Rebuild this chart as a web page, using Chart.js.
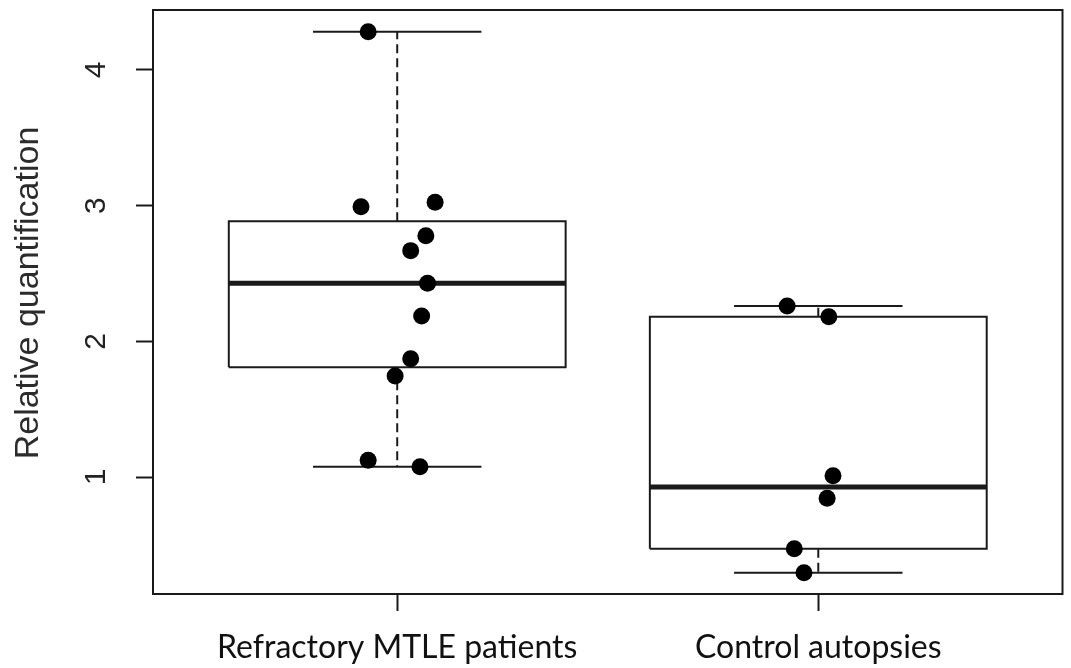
<!DOCTYPE html>
<html>
<head>
<meta charset="utf-8">
<script src="https://cdn.jsdelivr.net/npm/chart.js@4.4.1/dist/chart.umd.min.js"></script>
<style>
    html, body { margin: 0; padding: 0; background: #fff; }
    #wrap { width: 1071px; height: 668px; }
</style>
</head>
<body>
<div id="wrap"><canvas id="chart-box"></canvas></div>
<script>
// ===== 데이터 =====
const categories = ['Refractory MTLE patients', 'Control autopsies'];
const yTicks = [1, 2, 3, 4];
const yTitle = 'Relative quantification';

// 각 그룹의 측정값과 (지터된) x 위치
const mtleValues = [4.281, 3.024, 2.992, 2.778, 2.668, 2.427, 2.186, 1.872, 1.744, 1.123, 1.076];
const mtleJitter = [0.931, 1.090, 0.914, 1.068, 1.032, 1.072, 1.058, 1.032, 0.995, 0.931, 1.054];
const controlValues = [2.260, 2.181, 1.010, 0.843, 0.472, 0.295];
const controlJitter = [1.926, 2.025, 2.035, 2.021, 1.943, 1.966];

// ===== 유틸 =====
// R fivenum (Tukey hinges)
function fivenum(values) {
    const s = values.slice().sort(function (a, b) { return a - b; });
    const n = s.length;
    const n4 = Math.floor((n + 3) / 2) / 2;
    const d = [1, n4, (n + 1) / 2, n + 1 - n4, n];
    return d.map(function (p) {
        return 0.5 * (s[Math.floor(p) - 1] + s[Math.ceil(p) - 1]);
    });
}

function seg(x1, y1, x2, y2) {
    return [{ x: x1, y: y1 }, { x: x2, y: y2 }];
}

const INK = '#1a1a1a';
const groups = [
    { center: 1, values: mtleValues, jitter: mtleJitter },
    { center: 2, values: controlValues, jitter: controlJitter }
];

const datasets = [];

// 점 (맨 위에 그려지도록 첫 번째)
groups.forEach(function (g) {
    datasets.push({
        type: 'scatter',
        data: g.values.map(function (v, i) { return { x: g.jitter[i], y: v }; }),
        pointRadius: 8.5,
        pointBackgroundColor: '#000',
        pointBorderWidth: 0,
        showLine: false
    });
});

function lineSet(data, width, dash) {
    return {
        type: 'scatter',
        data: data,
        showLine: true,
        borderColor: INK,
        borderWidth: width,
        borderDash: dash || [],
        borderCapStyle: 'butt',
        borderJoinStyle: 'miter',
        pointRadius: 0,
        fill: false,
        tension: 0
    };
}

groups.forEach(function (g) {
    const f = fivenum(g.values);
    const c = g.center;
    const bw = 0.4, cw = 0.2;
    datasets.push(lineSet(seg(c - bw, f[2], c + bw, f[2]), 5));
    datasets.push(lineSet([
        { x: c - bw, y: f[1] }, { x: c + bw, y: f[1] },
        { x: c + bw, y: f[3] }, { x: c - bw, y: f[3] },
        { x: c - bw, y: f[1] }
    ], 2));
    datasets.push(lineSet(seg(c, f[3], c, f[4]), 2, [9, 5]));
    datasets.push(lineSet(seg(c, f[1], c, f[0]), 2, [9, 5]));
    datasets.push(lineSet(seg(c - cw, f[4], c + cw, f[4]), 2));
    datasets.push(lineSet(seg(c - cw, f[0], c + cw, f[0]), 2));
});

// ===== 플러그인: 외곽 박스 + 회전된 y 라벨 =====
const framePlugin = {
    id: 'frame',
    afterDraw: function (chart) {
        const ctx = chart.ctx;
        const a = chart.chartArea;
        const y = chart.scales.y;
        ctx.save();
        ctx.strokeStyle = INK;
        ctx.lineWidth = 2;
        ctx.strokeRect(a.left, a.top, a.right - a.left, a.bottom - a.top);

        ctx.textAlign = 'center';
        ctx.textBaseline = 'middle';
        ctx.fillStyle = '#222';
        ctx.font = '30px "Liberation Sans", Arial, sans-serif';
        yTicks.forEach(function (v) {
            ctx.save();
            ctx.translate(97, y.getPixelForValue(v));
            ctx.rotate(-Math.PI / 2);
            ctx.fillText(String(v), 0, 0);
            ctx.restore();
        });

        // y축 제목 (원본은 살짝 위쪽으로 치우침)
        ctx.fillStyle = '#2b2b2b';
        ctx.font = '34px "Liberation Sans", Arial, sans-serif';
        ctx.save();
        ctx.translate(29, 293);
        ctx.rotate(-Math.PI / 2);
        ctx.fillText(yTitle, 0, 0);
        ctx.restore();
        ctx.restore();
    }
};

// ===== 차트 =====
new Chart(document.getElementById('chart-box'), {
    data: { datasets: datasets },
    plugins: [framePlugin],
    options: {
        responsive: true,
        maintainAspectRatio: false,
        animation: false,
        layout: { padding: { top: 10, right: 4, left: 0, bottom: 0 } },
        plugins: { legend: { display: false }, tooltip: { enabled: false } },
        scales: {
            x: {
                type: 'linear',
                min: 0.42,
                max: 2.58,
                afterBuildTicks: function (s) { s.ticks = [{ value: 1 }, { value: 2 }]; },
                afterFit: function (s) {
                    s.height = 74;
                    s.paddingLeft = 0;
                    s.paddingRight = 0;
                },
                border: { display: false },
                grid: { drawOnChartArea: false, tickLength: 17, tickColor: INK, tickWidth: 2 },
                ticks: {
                    padding: 17,
                    color: '#111',
                    font: { family: 'Lato, "Noto Sans", sans-serif', size: 32 },
                    maxRotation: 0,
                    callback: function (v) { return categories[v - 1]; }
                }
            },
            y: {
                type: 'linear',
                min: 0.138,
                max: 4.441,
                afterBuildTicks: function (s) { s.ticks = yTicks.map(function (v) { return { value: v }; }); },
                afterFit: function (s) { s.width = 153; },
                border: { display: false },
                grid: { drawOnChartArea: false, tickLength: 17, tickColor: INK, tickWidth: 2 },
                ticks: { display: false }
            }
        }
    }
});
</script>
</body>
</html>
